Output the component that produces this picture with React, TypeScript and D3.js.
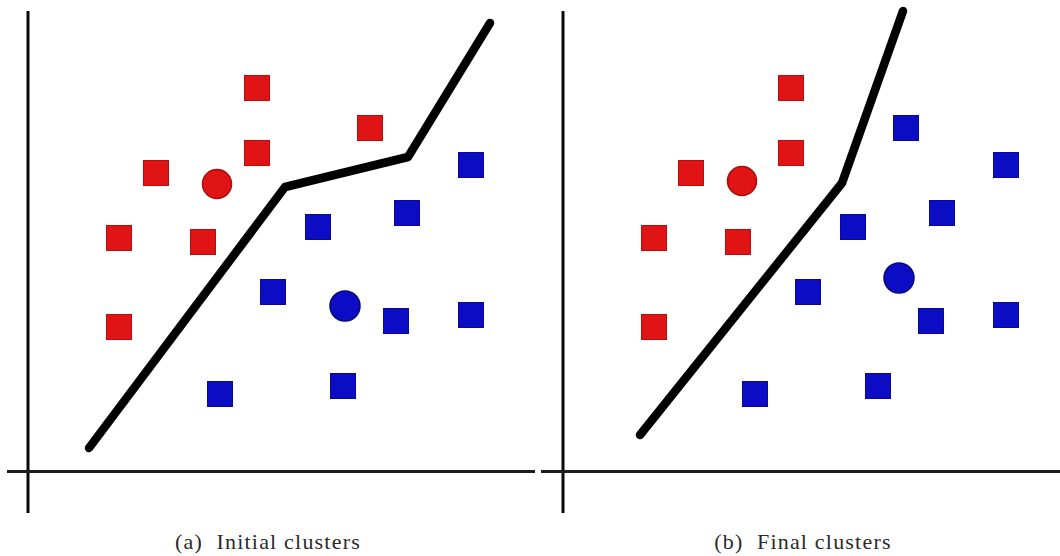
import React from "react";
import * as d3 from "d3";

type P = [number, number];

// Panel (a) initial clusters
const redSquaresA: P[] = [[229, 383], [342, 343], [229, 318], [128, 298], [91, 233], [175, 229], [91, 144]];
const redCentroidA: P = [189, 287];
const blueSquaresA: P[] = [[443, 306], [379, 258], [290, 244], [245, 179], [368, 150], [443, 156], [192, 77], [315, 85]];
const blueCentroidA: P = [317, 165];
const boundaryA: P[] = [[61, 23], [257, 284], [380, 314], [462, 448]];

// Panel (b) final clusters
const redSquaresB: P[] = [[228, 383], [228, 318], [128, 298], [91, 233], [175, 229], [91, 144]];
const redCentroidB: P = [179, 290];
const blueSquaresB: P[] = [[343, 343], [443, 306], [379, 258], [290, 244], [245, 179], [368, 150], [443, 156], [192, 77], [315, 85]];
const blueCentroidB: P = [336, 193];
const boundaryB: P[] = [[77, 36], [279, 288], [340, 460]];

const captions = ["(a)  Initial clusters", "(b)  Final clusters"];

const RED = "#e01414";
const RED_EDGE = "#b80d0d";
const BLUE = "#0c0cc4";
const BLUE_EDGE = "#08089a";

function Panel(props: {
  ox: number; axisLeft: number; axisRight: number;
  reds: P[]; redC: P; blues: P[]; blueC: P; boundary: P[]; caption: string; captionX: number;
}) {
  const { ox, reds, redC, blues, blueC, boundary, caption, captionX } = props;
  const x = d3.scaleLinear().domain([0, 500]).range([ox, ox + 500]);
  const y = d3.scaleLinear().domain([0, 460]).range([471, 11]);
  const line = d3.line<P>().x(d => x(d[0])).y(d => y(d[1]));
  const s = 25;
  return (
    <g>
      <line x1={x(0)} x2={x(0)} y1={11} y2={513} stroke="#0a0a0a" strokeWidth={3} />
      <line x1={props.axisLeft} x2={props.axisRight} y1={471.5} y2={471.5} stroke="#1c1c1c" strokeWidth={3} />
      {reds.map((d, i) => (
        <rect key={"r" + i} x={x(d[0]) - s / 2} y={y(d[1]) - s / 2} width={s} height={s} fill={RED} stroke={RED_EDGE} strokeWidth={1} />
      ))}
      {blues.map((d, i) => (
        <rect key={"b" + i} x={x(d[0]) - s / 2} y={y(d[1]) - s / 2} width={s} height={s} fill={BLUE} stroke={BLUE_EDGE} strokeWidth={1} />
      ))}
      <circle cx={x(redC[0])} cy={y(redC[1])} r={14.5} fill={RED} stroke="#a80c0c" strokeWidth={1.5} />
      <circle cx={x(blueC[0])} cy={y(blueC[1])} r={15} fill={BLUE} stroke="#06067f" strokeWidth={1.5} />
      <path d={line(boundary) || ""} fill="none" stroke="#000" strokeWidth={8.5} strokeLinecap="round" strokeLinejoin="round" />
      <text x={captionX} y={549} textAnchor="middle" fontFamily="'Liberation Serif', 'DejaVu Serif', serif" fontSize={22} letterSpacing={1.2} fill="#2a2a2a" style={{ whiteSpace: "pre" }}>{caption}</text>
    </g>
  );
}

export default function App() {
  return (
    <div style={{ position: "fixed", left: 0, top: 0 }}>
      <svg width={1060} height={556} style={{ display: "block", background: "#fff" }}>
        <Panel ox={28} axisLeft={7} axisRight={535} reds={redSquaresA} redC={redCentroidA} blues={blueSquaresA} blueC={blueCentroidA} boundary={boundaryA} caption={captions[0]} captionX={268} />
        <Panel ox={563} axisLeft={541} axisRight={1060} reds={redSquaresB} redC={redCentroidB} blues={blueSquaresB} blueC={blueCentroidB} boundary={boundaryB} caption={captions[1]} captionX={803} />
      </svg>
    </div>
  );
}
